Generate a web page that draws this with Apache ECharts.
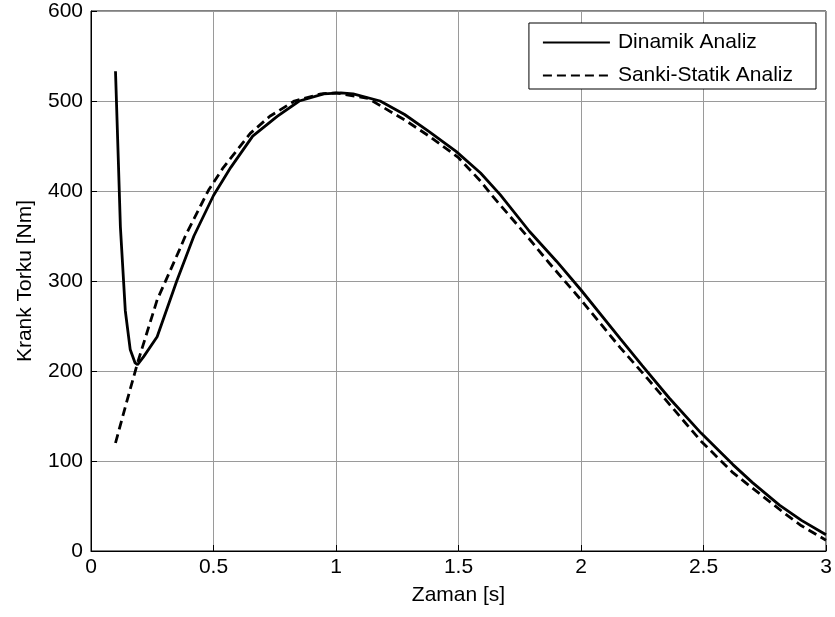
<!DOCTYPE html>
<html>
<head>
<meta charset="utf-8">
<script src="https://cdn.jsdelivr.net/npm/echarts@6/dist/echarts.min.js"></script>
<style>
    html, body { margin: 0; padding: 0; background: #fff; }
    #chart { width: 835px; height: 617px; }
</style>
</head>
<body>
<div id="chart"></div>
<script>
// Dinamik analiz (solid)
const dynTime = [0.1, 0.112, 0.12, 0.14, 0.16, 0.18, 0.19, 0.215, 0.27, 0.35, 0.42, 0.5, 0.57,
    0.66, 0.76, 0.85, 0.95, 1.02, 1.07, 1.18, 1.28, 1.38, 1.49, 1.59, 1.67, 1.79, 1.9, 2.0,
    2.16, 2.25, 2.36, 2.49, 2.62, 2.7, 2.81, 2.9, 3.0];
const dynTorque = [533, 430, 360, 267, 224, 209, 207, 216, 238, 300, 350, 395, 426,
    461, 483, 500, 508, 509, 508, 500, 485, 466, 444, 420, 396, 355, 322, 290,
    236, 206, 170, 131, 96, 76, 51, 34, 18];

// Sanki-statik analiz (dashed)
const statTime = [0.1, 0.145, 0.19, 0.27, 0.36, 0.385, 0.45, 0.48, 0.54, 0.65, 0.73, 0.83, 0.94, 1.0,
    1.13, 1.28, 1.38, 1.5, 1.59, 1.64, 1.77, 1.87, 2.0, 2.16, 2.27, 2.38, 2.49, 2.62,
    2.69, 2.83, 2.9, 3.0];
const statTorque = [120, 165, 209, 279, 334, 350, 385, 401, 426, 464, 483, 500, 508, 509,
    503, 479, 461, 437, 411, 394, 353, 320, 279, 226, 192, 157, 122, 87,
    72, 42, 28, 12];

const xTicks = { min: 0, max: 3, interval: 0.5 };
const yTicks = { min: 0, max: 600, interval: 100 };

const zip = (xs, ys) => xs.map((x, i) => [x, ys[i]]);

const font = 'Liberation Sans, Arial, Helvetica, sans-serif';
const fs = 21;
const chart = echarts.init(document.getElementById('chart'));

const option = {
    animation: false,
    backgroundColor: '#fff',
    grid: {
        left: 91,
        right: 9,
        top: 11,
        bottom: 66,
        show: true,
        borderColor: '#000',
        borderWidth: 1
    },
    legend: {
        orient: 'vertical',
        right: 19,
        top: 23,
        itemWidth: 67,
        itemHeight: 22,
        itemGap: 12,
        padding: [9, 23, 3, 13],
        backgroundColor: '#fff',
        borderColor: '#000',
        borderWidth: 1,
        borderRadius: 0,
        itemStyle: { opacity: 0 },
        textStyle: {
            color: '#000',
            fontFamily: font,
            fontSize: fs,
            padding: [0, 0, 0, 3]
        },
        data: ['Dinamik Analiz', 'Sanki-Statik Analiz']
    },
    xAxis: {
        type: 'value',
        min: xTicks.min,
        max: xTicks.max,
        interval: xTicks.interval,
        name: 'Zaman [s]',
        nameLocation: 'middle',
        nameGap: 34,
        nameTextStyle: { color: '#000', fontFamily: font, fontSize: fs },
        axisLine: { lineStyle: { color: '#000', width: 1 } },
        axisTick: { inside: true, length: 6, lineStyle: { color: '#000' } },
        axisLabel: { color: '#000', fontFamily: font, fontSize: fs, margin: 6 },
        splitLine: { show: true, lineStyle: { color: '#9a9a9a', width: 1 } }
    },
    yAxis: {
        type: 'value',
        min: yTicks.min,
        max: yTicks.max,
        interval: yTicks.interval,
        name: 'Krank Torku [Nm]',
        nameLocation: 'middle',
        nameGap: 55,
        nameTextStyle: { color: '#000', fontFamily: font, fontSize: fs },
        axisLine: { show: true, lineStyle: { color: '#000', width: 1 } },
        axisTick: { show: true, inside: true, length: 6, lineStyle: { color: '#000' } },
        axisLabel: { color: '#000', fontFamily: font, fontSize: fs, margin: 8 },
        splitLine: { show: true, lineStyle: { color: '#9a9a9a', width: 1 } }
    },
    series: [
        {
            name: 'Dinamik Analiz',
            type: 'line',
            data: zip(dynTime, dynTorque),
            symbol: 'none',
            color: '#000',
            lineStyle: { color: '#000', width: 2.8, type: 'solid' }
        },
        {
            name: 'Sanki-Statik Analiz',
            type: 'line',
            data: zip(statTime, statTorque),
            symbol: 'none',
            color: '#000',
            lineStyle: { color: '#000', width: 2.8, type: [9, 5] }
        }
    ]
};

chart.setOption(option);
</script>
</body>
</html>
